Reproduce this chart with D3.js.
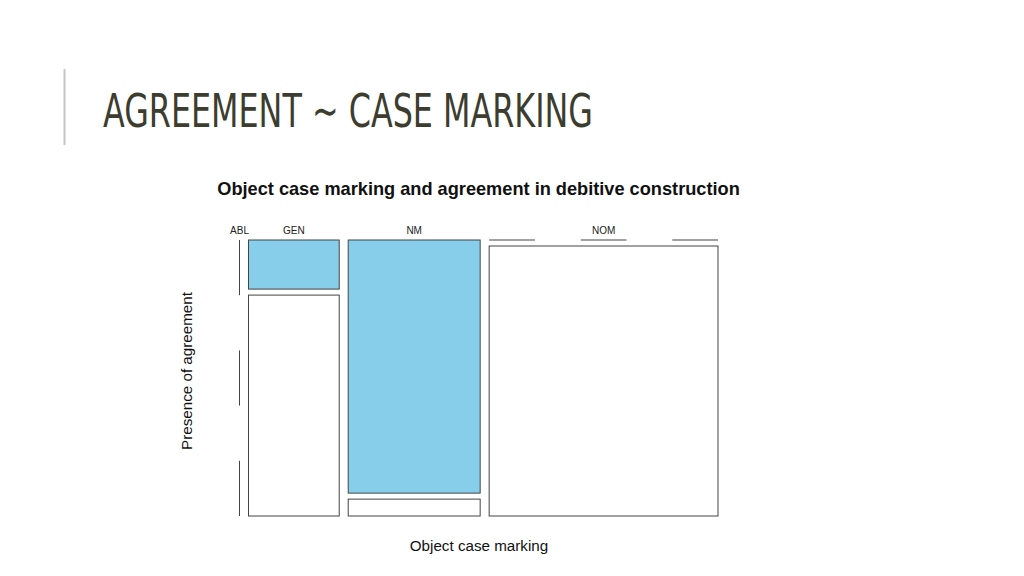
<!DOCTYPE html>
<html>
<head>
<meta charset="utf-8">
<script src="https://cdn.jsdelivr.net/npm/d3@7/dist/d3.min.js"></script>
<style>
  body { margin: 0; background: #fff; }
  svg { display: block; }
</style>
</head>
<body>
<svg id="slide"></svg>
<script>
// object case marking categories and counts per agreement level
const cases = ['ABL', 'GEN', 'NM', 'NOM'];
const agreeYes = [0, 8, 60, 0];
const agreeNo = [0, 36, 4, 111];
const fillColors = ['#87ceeb', '#ffffff'];

const W = 1024, H = 576;
const svg = d3.select('#slide').attr('width', W).attr('height', H);

// slide header
svg.append('line')
    .attr('x1', 64.5).attr('x2', 64.5).attr('y1', 69).attr('y2', 145)
    .attr('stroke', '#c4c4c4').attr('stroke-width', 2);

const headFont = '"DejaVu Sans Condensed", "Liberation Sans Narrow", "DejaVu Sans", sans-serif';
svg.append('text')
    .attr('x', 103).attr('y', 127)
    .attr('textLength', 490).attr('lengthAdjust', 'spacingAndGlyphs')
    .style('font-family', headFont)
    .style('font-stretch', 'condensed')
    .style('font-size', '47px')
    .style('font-weight', '300')
    .attr('fill', '#3d3d2f')
    .text('AGREEMENT \u223C CASE MARKING');

// chart
const plotLeft = 239.5, plotRight = 718, plotTop = 240, plotBottom = 516;
const colGap = 9, rowGap = 6;
const totals = cases.map((c, i) => agreeYes[i] + agreeNo[i]);
const grand = d3.sum(totals);
const xScale = d3.scaleLinear().domain([0, grand])
    .range([0, (plotRight - plotLeft) - colGap * (cases.length - 1)]);
const yScale = d3.scaleLinear().domain([0, 1]).range([0, (plotBottom - plotTop) - rowGap]);

const font = 'Liberation Sans, Arial, sans-serif';

svg.append('text')
    .attr('x', 478.5).attr('y', 195)
    .attr('text-anchor', 'middle')
    .style('font-family', font).style('font-weight', 'bold').style('font-size', '18.2px')
    .attr('fill', '#111')
    .text('Object case marking and agreement in debitive construction');

svg.append('text')
    .attr('x', 479).attr('y', 551)
    .attr('text-anchor', 'middle')
    .style('font-family', font).style('font-size', '15.2px')
    .attr('fill', '#111')
    .text('Object case marking');

svg.append('text')
    .attr('transform', 'translate(192,371) rotate(-90)')
    .attr('text-anchor', 'middle')
    .style('font-family', font).style('font-size', '15.2px')
    .attr('fill', '#111')
    .text('Presence of agreement');

let cum = 0;
const cols = cases.map((c, i) => {
    const x0 = plotLeft + xScale(cum) + i * colGap;
    const w = xScale(totals[i]);
    cum += totals[i];
    return {name: c, x0: x0, w: w, yes: agreeYes[i], no: agreeNo[i], total: totals[i]};
});

const g = svg.append('g');

cols.forEach(col => {
    g.append('text')
        .attr('x', col.x0 + col.w / 2).attr('y', 234)
        .attr('text-anchor', 'middle')
        .style('font-family', font).style('font-size', '10px')
        .attr('fill', '#222')
        .text(col.name);

    if (col.total === 0) {
        const len = plotBottom - plotTop;
        g.append('line')
            .attr('x1', col.x0).attr('x2', col.x0).attr('y1', plotTop).attr('y2', plotBottom)
            .attr('stroke', '#444').attr('stroke-width', 1)
            .attr('stroke-dasharray', (len / 5) + ',' + (len / 5));
        return;
    }
    const cells = [col.yes, col.no];
    let y = plotTop;
    cells.forEach((v, j) => {
        const h = yScale(v / col.total);
        if (v === 0) {
            g.append('line')
                .attr('x1', col.x0).attr('x2', col.x0 + col.w).attr('y1', y).attr('y2', y)
                .attr('stroke', '#444').attr('stroke-width', 1.2)
                .attr('stroke-dasharray', (col.w / 5) + ',' + (col.w / 5));
        } else {
            g.append('rect')
                .attr('x', col.x0).attr('y', y)
                .attr('width', col.w).attr('height', h)
                .attr('fill', fillColors[j])
                .attr('stroke', '#444').attr('stroke-width', 1);
        }
        y += h + rowGap;
    });
});
</script>
</body>
</html>
